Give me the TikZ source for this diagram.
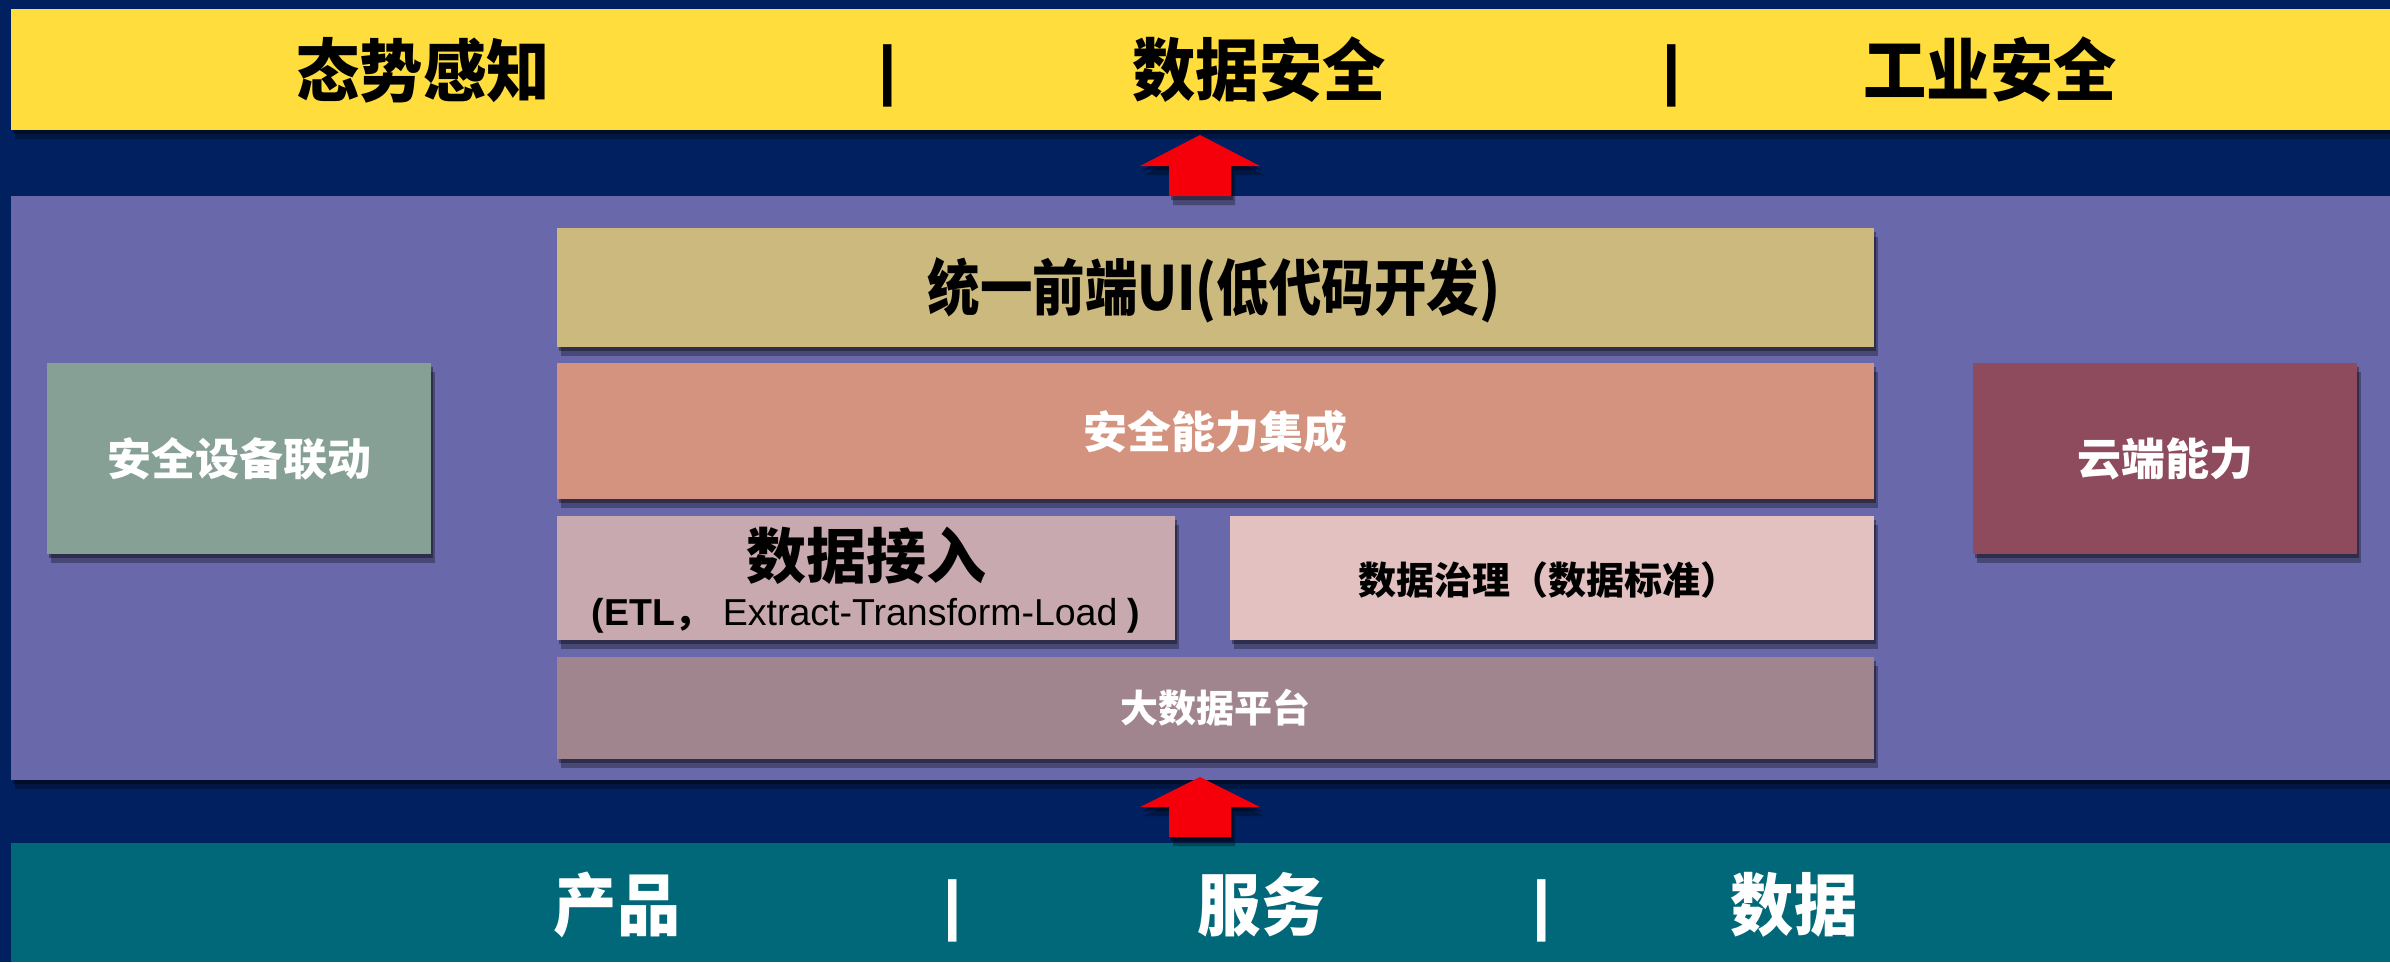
\documentclass[tikz,border=0pt]{standalone}
\usepackage{fontspec}
\setmainfont{Liberation Sans}
\newfontfamily\cjk{Noto Sans CJK SC}
\newfontfamily\cjkt{Noto Sans CJK SC}[FakeStretch=0.93]
\newfontfamily\cjkc{Noto Sans CJK SC}[FakeStretch=0.86]
\usetikzlibrary{shadows}
\definecolor{navy}{RGB}{0,32,96}
\definecolor{bandyellow}{RGB}{255,221,60}
\definecolor{panelpurple}{RGB}{104,104,170}
\definecolor{bandteal}{RGB}{0,104,120}
\definecolor{uitan}{RGB}{204,185,126}
\definecolor{salmon}{RGB}{212,147,127}
\definecolor{ingestpink}{RGB}{199,169,175}
\definecolor{governpink}{RGB}{226,193,192}
\definecolor{bigmauve}{RGB}{160,133,143}
\definecolor{linkgreen}{RGB}{135,160,150}
\definecolor{cloudwine}{RGB}{142,75,94}
\definecolor{arrowred}{RGB}{245,0,10}
\tikzset{
  softshadow/.style={
    drop shadow={shadow xshift=2pt,shadow yshift=-4pt,opacity=0.35,fill=black},
    drop shadow={shadow xshift=4pt,shadow yshift=-9pt,opacity=0.3,fill=black}},
  band/.style={inner sep=0pt,outer sep=0pt,draw=none},
  blk/.style={inner sep=0pt,outer sep=0pt,draw=none,softshadow},
  title/.style={inner sep=0pt,font=\cjkt\bfseries\fontsize{68}{72}\selectfont},
  sepbar/.style={inner sep=0pt,font=\bfseries\fontsize{66}{70}\selectfont},
  whitelbl/.style={inner sep=0pt,text=white,font=\cjk\bfseries\fontsize{44}{48}\selectfont},
  blacklbl/.style={inner sep=0pt,text=black},
  redarrow/.style={fill=arrowred,draw=none,softshadow}
}
\begin{document}
\begin{tikzpicture}[x=1pt,y=-1pt]
\useasboundingbox (0,0) rectangle (2390,962);
\fill[navy] (0,0) rectangle (2390,962);

% top band
\node[band,fill=bandyellow,minimum width=2379pt,minimum height=121pt,softshadow] (top) at (1200.5,69.5) {};
\node[title] (t1) at (423,70) {态势感知};
\node[sepbar] (s1) at (888,76) {|};
\node[title] (t2) at (1259,70) {数据安全};
\node[sepbar] (s2) at (1672,76) {|};
\node[title] (t3) at (1990,70) {工业安全};

% middle panel
\node[band,fill=panelpurple,minimum width=2379pt,minimum height=584pt,softshadow] (panel) at (1200.5,488) {};

% bottom band
\node[band,fill=bandteal,minimum width=2379pt,minimum height=119pt] (bottom) at (1200.5,902.5) {};
\node[title,text=white] (b1) at (617,905) {产品};
\node[sepbar,text=white] (bs1) at (953,911) {|};
\node[title,text=white] (b2) at (1261,905) {服务};
\node[sepbar,text=white] (bs2) at (1542,911) {|};
\node[title,text=white] (b3) at (1794,905) {数据};

% inner blocks
\node[blk,fill=uitan,minimum width=1317pt,minimum height=119pt] (ui) at (1215.5,287.5) {};
\node[blacklbl,font=\cjkc\bfseries\fontsize{61}{64}\selectfont] (uit) at (1214,290) {统一前端UI(低代码开发)};

\node[blk,fill=salmon,minimum width=1317pt,minimum height=136pt] (integ) at (1215.5,431) {};
\node[whitelbl] (integt) at (1215,432) {安全能力集成};

\node[blk,fill=ingestpink,minimum width=618pt,minimum height=124pt] (ingest) at (866,578) {};
\node[blacklbl,font=\cjk\bfseries\fontsize{60}{64}\selectfont] (ingestt) at (866,556) {数据接入};
\node[blacklbl,font=\fontsize{37.5}{40}\selectfont] (etl) at (866,616) {\textbf{(ETL}{\cjk\bfseries ，}\ Extract-Transform-Load \textbf{)}};

\node[blk,fill=governpink,minimum width=644pt,minimum height=124pt] (govern) at (1552,578) {};
\node[blacklbl,font=\cjk\bfseries\fontsize{38}{42}\selectfont] (governt) at (1548,580) {数据治理（数据标准）};

\node[blk,fill=bigmauve,minimum width=1317pt,minimum height=102pt] (big) at (1215.5,708) {};
\node[whitelbl,font=\cjk\bfseries\fontsize{38}{42}\selectfont] (bigt) at (1215,708) {大数据平台};

\node[blk,fill=linkgreen,minimum width=384pt,minimum height=191pt] (link) at (239,458.5) {};
\node[whitelbl] (linkt) at (239,459) {安全设备联动};

\node[blk,fill=cloudwine,minimum width=384pt,minimum height=191pt] (cloud) at (2165,458.5) {};
\node[whitelbl] (cloudt) at (2165,459) {云端能力};

% block arrows
\fill[redarrow] (1200,135) -- (1260,166) -- (1231,166) -- (1231,196) -- (1169,196) -- (1169,166) -- (1140,166) -- cycle;
\fill[redarrow] (1200,777) -- (1260,807) -- (1231,807) -- (1231,837) -- (1169,837) -- (1169,807) -- (1140,807) -- cycle;
\end{tikzpicture}
\end{document}
